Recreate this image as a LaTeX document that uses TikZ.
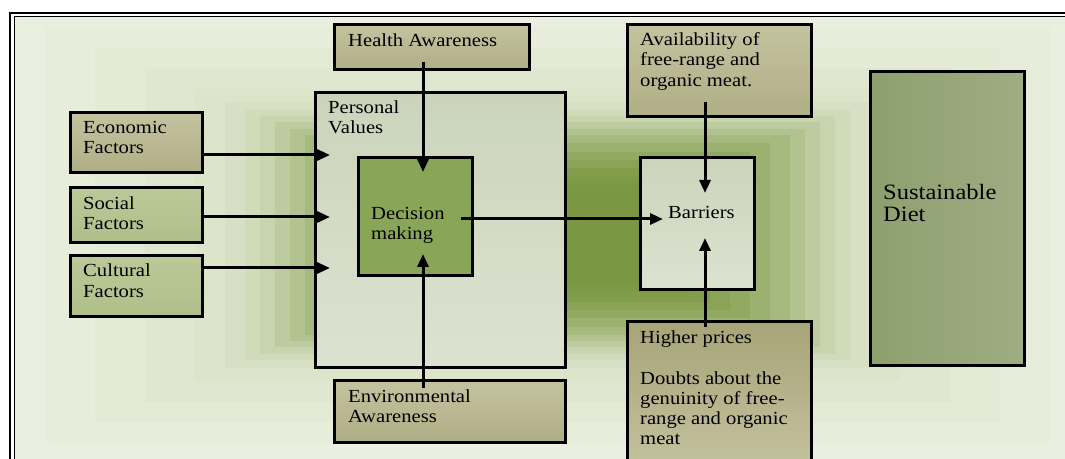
\documentclass[tikz,border=0pt]{standalone}
\usepackage{fontspec}
\setmainfont{Liberation Serif}[FakeStretch=1.12]
\newfontfamily\sdfont{Liberation Serif}[FakeStretch=1.12]
\usetikzlibrary{arrows.meta}
\definecolor{bgpale}{HTML}{EEF2E4}
\definecolor{bgdark}{HTML}{7A9842}
\definecolor{tantop}{HTML}{C5C2A0}
\definecolor{tanbot}{HTML}{B0AE85}
\definecolor{grntop}{HTML}{BBC898}
\definecolor{grnbot}{HTML}{AFBF89}
\definecolor{dmfill}{HTML}{89A557}
\definecolor{pvtop}{HTML}{CBD4BB}
\definecolor{pvbot}{HTML}{DCE2D1}
\definecolor{sdleft}{HTML}{8E9F6F}
\definecolor{sdright}{HTML}{9EAD82}
\definecolor{hptop}{HTML}{A7A478}
\tikzset{
  box/.style={draw=black, line width=3bp, rectangle, inner sep=0pt, anchor=north west},
  tanbox/.style={box, top color=tantop, bottom color=tanbot},
  grnbox/.style={box, top color=grntop, bottom color=grnbot},
  pvbox/.style={box, top color=pvtop, bottom color=pvbot},
  txt/.style={inner sep=0pt, anchor=base west, align=left, font=\fontsize{18.5}{20.6}\selectfont},
  arr/.style={line width=3bp, -{Triangle[length=13bp,width=11bp]}},
}
\begin{document}
\begin{tikzpicture}[x=1bp,y=-1bp]
\useasboundingbox (0,0) rectangle (1065,459);
% background gradient
\begin{scope}
\clip (14.5,16.5) rectangle (1065,459);
\fill[bgpale] (0,0) rectangle (1065,459);
\foreach \d/\p in {560/3,500/6,450/9,400/12,350/16,320/20,300/26,285/33,270/42,255/52,240/62,220/72,200/80,180/87,160/93,140/97,120/100}{
  \fill[bgdark!\p!bgpale] (545-\d,235-\d/2.4) rectangle (550+\d,235+\d/2.4);
}
\end{scope}
% frame
\draw[line width=2bp] (10,459) -- (10,13) -- (1065,13);
\draw[line width=1.4bp] (14.5,459) -- (14.5,16.8) -- (1065,16.8);
% boxes
\node[tanbox, minimum width=132bp, minimum height=60bp] (eco) at (68.5,111.5) {};
\node[grnbox, minimum width=132bp, minimum height=55bp] (soc) at (68.5,186.5) {};
\node[grnbox, minimum width=132bp, minimum height=61bp] (cul) at (68.5,254.5) {};
\node[pvbox, minimum width=250bp, minimum height=274bp] (pv) at (313.5,91.5) {};
\node[tanbox, minimum width=195bp, minimum height=45bp] (ha) at (332.5,23.5) {};
\node[box, fill=dmfill, minimum width=114bp, minimum height=118bp] (dm) at (356.5,156.5) {};
\node[tanbox, minimum width=231bp, minimum height=61bp] (env) at (332.5,379.5) {};
\node[pvbox, minimum width=114bp, minimum height=132bp] (bar) at (638.5,156.5) {};
\node[tanbox, minimum width=184bp, minimum height=92bp] (av) at (625.5,23.5) {};
\node[box, top color=hptop, bottom color=tantop, minimum width=184bp, minimum height=150bp] (hp) at (625.5,320.5) {};
\node[box, left color=sdleft, right color=sdright, minimum width=154bp, minimum height=293bp] (sd) at (868.5,70.5) {};
% texts (anchored at the baseline of the last line)
\node[txt] (teco) at (83,154) {Economic\\Factors};
\node[txt] (tsoc) at (83,230) {Social\\Factors};
\node[txt] (tcul) at (83,297.5) {Cultural\\Factors};
\node[txt] (tha) at (348,47) {Health Awareness};
\node[txt] (tpv) at (328,134) {Personal\\Values};
\node[txt] (tdm) at (371,240) {Decision\\making};
\node[txt] (tenv) at (348,423) {Environmental\\Awareness};
\node[txt] (tbar) at (668,219) {Barriers};
\node[txt] (tav) at (640,86.5) {Availability of\\free-range and\\organic meat.};
\node[txt, font=\fontsize{18.5}{20.2}\selectfont] (thp) at (640,444.5) {Higher prices\\[20.5bp]Doubts about the\\genuinity of free-\\range and organic\\meat};
\node[txt, font=\sdfont\fontsize{22}{23}\selectfont] (tsd) at (883,222) {Sustainable\\Diet};
% connector end points
\coordinate (e1) at (330,155);
\coordinate (e2) at (330,217);
\coordinate (e3) at (330,268);
\coordinate (h0) at (423,62);
\coordinate (h1) at (423,172);
\coordinate (v0) at (423,388);
\coordinate (v1) at (423,254);
\coordinate (d0) at (461,219);
\coordinate (b1) at (663,219);
\coordinate (a0) at (705,102);
\coordinate (a1) at (705,193);
\coordinate (p0) at (705,327);
\coordinate (p1) at (705,238);
% arrows
\draw[arr] (eco.east |- e1) -- (e1);
\draw[arr] (soc.east |- e2) -- (e2);
\draw[arr] (cul.east |- e3) -- (e3);
\draw[arr] (h0) -- (h1);
\draw[arr] (v0) -- (v1);
\draw[arr] (d0) -- (b1);
\draw[arr] (a0) -- (a1);
\draw[arr] (p0) -- (p1);
\end{tikzpicture}
\end{document}
